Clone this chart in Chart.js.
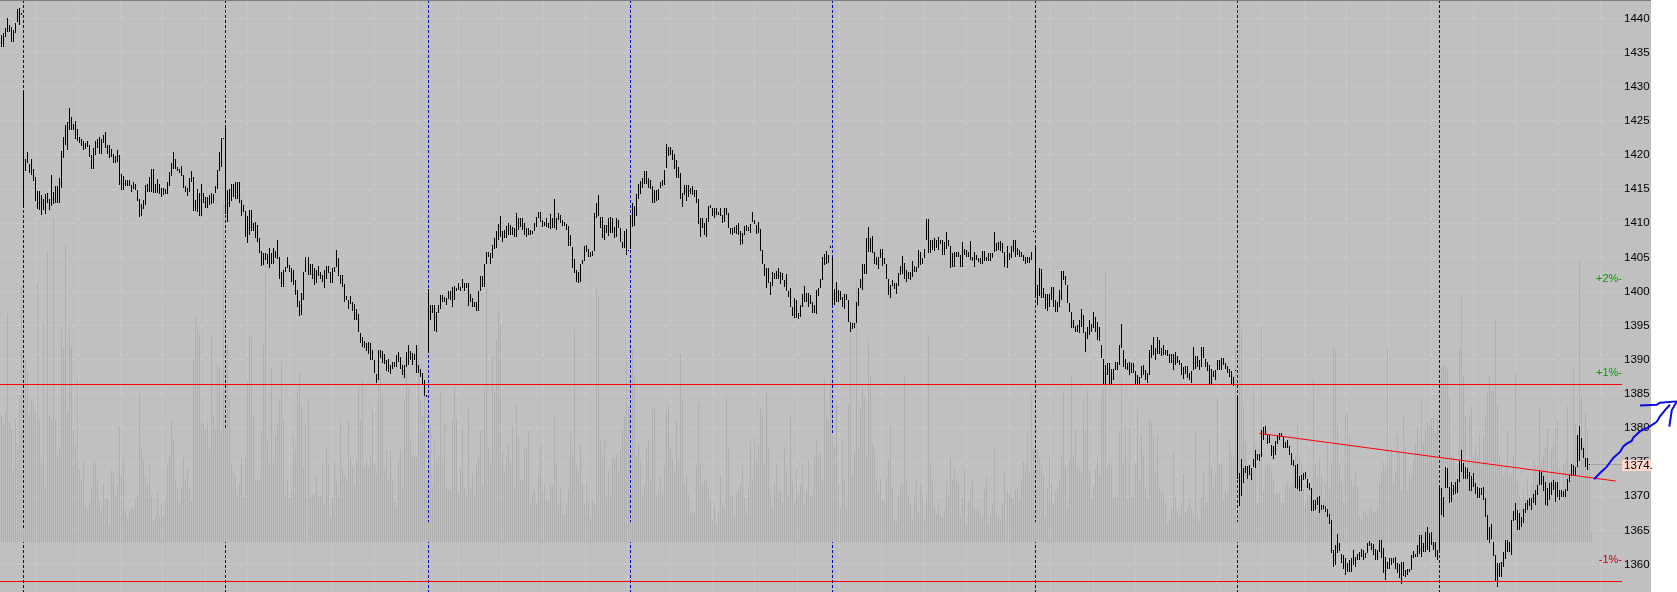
<!DOCTYPE html>
<html>
<head>
<meta charset="utf-8">
<style>
  html, body { margin: 0; background: #fff; overflow: hidden; }
  canvas { display: block; }
</style>
<script src="https://cdn.jsdelivr.net/npm/chart.js@4"></script>
</head>
<body>
<canvas id="chart" width="1677" height="592"></canvas>
<script>
// --- Data: high,low pairs per bar, one array per session ---
const session0 = [1437.6,1435.8,1437.9,1435.8,1438.6,1437.3,1440,1438,1439,1438,1438.75,1436.5,1438.25,1436.5,1439.3,1437.9,1441.4,1439.5,1441.5,1439,1440.75,1440.5];
const session1 = [1429.4,1412.4,
  1419.4,1417.7,1420.4,1418.8,1418.7,1417.3,1419.4,1417.1,1418,1416.2,1416.8,1413.3,1414.7,1412.1,1414.7,1412,1414.1,1411.2,1413.5,1412,
  1414.3,1411.3,1414.5,1413,1413.5,1412,1417.1,1412.5,1414.6,1412.8,1415.4,1412.9,1415.4,1413,1416.7,1413,1420.6,1415.1,1422.7,1419.5,
  1424.4,1421.4,1424.9,1420.7,1426.9,1423.6,1425.5,1423.7,1424.6,1423.6,1425,1422.3,1423.8,1422,1422.6,1421.7,1422.4,1421.3,1422,1420.7,
  1421.8,1420.9,1422,1421.1,1421.5,1419.7,1420,1418,1421,1418,1422.1,1420,1422.3,1421,1422.6,1420.1,1422.3,1420.2,1422.9,1421.7,
  1423.3,1421,1421.5,1420.2,1421.4,1419.5,1420.9,1419.7,1420.1,1418.9,1419.9,1418.8,1420.7,1419,1420,1415.6,1417.2,1414.8,1416.9,1414.9,
  1416.3,1415.4,1416.3,1415.4,1416.3,1415.4,1415.6,1414.6,1416.1,1415,1415.8,1414.8,1414.9,1413.3,1413.6,1410.9,1412.8,1411,1413.4,1412.1,
  1415.6,1412.7,1415.7,1414.6,1416.8,1414.6,1418,1414.6,1418,1414.5,1415.8,1414.5,1416.5,1414.4,1415.7,1414.3,1415.1,1413.9,1415.1,1414.1,
  1415,1414.3,1416.1,1414.3,1417.5,1415.5,1418.9,1416.9,1420.4,1418,1419.4,1417.9,1418.3,1417.6,1418,1417.4,1418.4,1416.9,1417.1,1415.1,
  1415.5,1414.6,1415.2,1414,1416.6,1414.6,1417.6,1416.1,1416.8,1411.8,1413.4,1411.8,1415,1411.7,1414.4,1411,1415.8,1411.1,1414.5,1413,
  1413.9,1412.2,1413.9,1412.2,1414.1,1412.7,1414.5,1412.8,1414.3,1412.9,1415.4,1414.4,1417.8,1415,1420.4,1417.6,1422.5,1418.2,1422.5,1422.3];
const session2 = [1424,1411.4,
  1414.8,1410.2,1415,1412.4,1415.7,1413.2,1415.8,1413.9,1416.1,1413.6,1416.1,1413.6,1416.1,1412.9,1413.4,1411,1412.7,1411.7,1411.8,1408,
  1411,1407.1,1411.9,1408.3,1411.9,1408.9,1410.1,1408.8,1410.2,1407.9,1409.7,1407.3,1407.8,1405.7,1406,1403.8,1405.7,1403.9,1405.6,1404.6,
  1405.5,1404.1,1406.3,1403.4,1405.6,1404.1,1406.3,1404.1,1406,1404.9,1407.6,1404.8,1405.1,1401.8,1402.8,1400.6,1403.2,1400.7,1403.6,1402.9,
  1405.1,1403.5,1403.9,1402.9,1403.4,1401.4,1403.1,1400.9,1401.7,1399.5,1400.2,1397.8,1398.6,1396.4,1399.8,1396.6,1402.9,1398.7,1405,1402.9,
  1405,1402.4,1404,1402.4,1404,1401.9,1403.4,1400.9,1403.1,1401.2,1403.7,1402.2,1402.8,1401.9,1402.4,1401.4,1403.1,1400.5,1403.7,1401.9,
  1403.7,1402.7,1402.9,1401.2,1403.4,1401.2,1403.6,1402.9,1406.1,1403.6,1404.9,1402.2,1402.4,1401.1,1402.4,1400.7,1401.1,1398.5,1399.3,1398.7,
  1398.8,1397.5,1399.4,1398.2,1398.5,1397.2,1398.2,1395.8,1397.4,1395.8,1396.7,1394.1,1393.9,1392.4,1393.4,1391.8,1392.7,1391.7,1392.5,1391.3,
  1392.6,1390.9,1392.4,1390,1391.5,1390,1390,1388,1387.9,1386.6,1391.5,1387,1391.4,1390.2,1391.3,1389.5,1390.9,1389.4,1390,1388.3,
  1390.1,1388.2,1389.2,1387.9,1389.7,1388.6,1389.7,1388.9,1390.7,1389,1391.2,1389.7,1390.4,1388.7,1389.3,1387.8,1389.2,1387.3,1391.2,1389,
  1392.2,1389.2,1391.3,1390,1391,1389.2,1390.9,1389.9,1392.2,1388,1389.2,1388,1388.7,1387.5,1388,1386.5,1387,1384.7,1384.9,1384.6];
const session3 = [1400.3,1391,
  1398,1395.8,1398,1396.9,1398,1394.2,1397,1394.1,1398,1396.8,1399.5,1397.4,1399.5,1398.5,1399.2,1398.5,1399,1398,1400,1398.9,
  1400.1,1398.8,1400.7,1397.8,1400.8,1398.8,1400.5,1400.1,1401.3,1400.2,1400.7,1400,1401.8,1400.5,1401.2,1400,1401.3,1400.5,1401.2,1397.9,
  1399.7,1398.5,1399,1397.8,1398.5,1397.7,1398.5,1397.2,1400,1397.2,1402.2,1400.1,1402.2,1400.7,1404,1400.7,1405.8,1404.1,1405.8,1405,
  1405.6,1404,1406.8,1404.9,1407.8,1406.2,1408.8,1406.3,1409.9,1407.5,1411.1,1408,1408.8,1407.3,1409,1407.8,1409.6,1407.8,1410.1,1408.3,
  1409.7,1408.3,1409.5,1408.3,1409.3,1408,1411.5,1408,1410.7,1409,1410.7,1409.5,1410.7,1409,1410,1408.3,1409.3,1408,1409.3,1408.3,
  1409,1408.3,1408.8,1408.4,1410,1408.8,1410.9,1409.5,1411.7,1410.7,1411.7,1410.2,1410.5,1409.5,1410.2,1409.6,1410.7,1409.5,1410,1409.3,
  1411.3,1409.1,1410.7,1409.3,1413.6,1409.3,1410.7,1409,1411.5,1410.5,1411.2,1410,1410.5,1409.6,1410.2,1409.6,1409.9,1409,1409.6,1406.6,
  1408.3,1406.6,1406.5,1403.4,1404.7,1402.7,1403.2,1401.4,1402.9,1401.2,1404,1401.4,1404.6,1404,1406.6,1404.4,1406.8,1405.8,1406.2,1405,
  1405.8,1405.1,1406,1405.2,1411.5,1406,1413,1410.7,1414.1,1411,1410.9,1409.3,1410.9,1407.8,1409.7,1407.5,1409.7,1408.5,1410.7,1408.1,
  1410.9,1408.5,1410.7,1408.5,1409.5,1407.9,1410.7,1408,1410.5,1409.3,1409.3,1407.2,1407.3,1406.3,1408.8,1406.3,1409.1,1405.3,1406.1,1406];
const session4 = [1411.2,1406.2,
  1412.9,1409.5,1412.5,1409.6,1414.3,1411,1415.8,1413.6,1416.2,1414.3,1416.7,1415.1,1417.6,1415.8,1417.6,1415.8,1416.6,1415.1,1416.4,1415,
  1415.4,1412.9,1414.9,1412.9,1414.9,1413.2,1415,1413.4,1416.1,1415.1,1416.3,1415.4,1417.8,1415.6,1421.6,1418.1,1421.2,1419.8,1421.1,1420,
  1420.8,1419.3,1420.2,1417.9,1419.3,1416.7,1418.3,1416.6,1417.3,1413.6,1414.4,1412.4,1415.6,1414.1,1415.6,1413.2,1415.6,1413.9,1415.1,1414.3,
  1415.5,1414.1,1414.8,1413.9,1414.8,1412.9,1413.5,1409.9,1410.7,1408,1410.7,1409.3,1410.1,1408.3,1410.7,1408,1412.5,1410.2,1412.7,1412.2,
  1412.2,1411,1412.3,1410.8,1412.2,1411.2,1411.7,1411.2,1412.3,1411,1411.2,1410,1412.3,1410.2,1412.3,1411.2,1411.5,1409.3,1409.3,1408.4,
  1409.3,1408.3,1409.4,1408.5,1409.7,1408.4,1410,1408.3,1408.8,1406.8,1408.5,1407,1409.6,1408.3,1409.7,1408.8,1409.5,1408.9,1409.9,1408.5,
  1411.7,1410.2,1410.5,1409.9,1409.7,1408.4,1410.2,1408.5,1409.1,1406,1406.1,1404,1404,1402.2,1403.4,1400.5,1403.5,1401.2,1401.4,1399.5,
  1402.9,1400.8,1402.7,1401.9,1403,1401.9,1403.4,1401.9,1402.8,1401.1,1402.7,1401.7,1401.7,1400.7,1402.6,1400,1400,1399.2,1400.5,1397.7,
  1397.7,1396.4,1399,1396.1,1398.8,1396.1,1396.8,1395.9,1398,1396.3,1399.7,1397.7,1400.8,1398.5,1399.8,1398.5,1399.8,1397.8,1399.5,1398.2,
  1398.5,1396.8,1398,1396.8,1400.2,1396.7,1400.5,1399.3,1401.9,1400.5,1405,1401.7,1405.5,1403.9,1406,1404.1,1405.3,1404.2,1406.6,1406.3];
const session5 = [1405.1,1398,
  1400.3,1398,1401.4,1398.5,1400.2,1398.5,1400,1398.8,1399.2,1397.8,1399.6,1397.5,1399.6,1398.7,1398.8,1395.6,1395.6,1394.1,1395.4,1394.5,
  1395.4,1394.6,1398.5,1395.4,1400.5,1397.9,1401.9,1400.5,1404.1,1400.2,1404.1,1402.6,1407.9,1402.6,1409.4,1405.8,1407.8,1405.8,1408.1,1405.6,
  1405.8,1404.1,1405.1,1403.9,1405.1,1403.3,1406.2,1404.9,1406.2,1403.7,1404.9,1404,1404,1401.9,1401.9,1399.5,1400.9,1399.1,1401.7,1400.8,
  1401.2,1400.3,1401.2,1399.7,1402.7,1400.8,1403.7,1402.4,1405.2,1402.6,1404.2,1401.9,1403.1,1401.4,1402.9,1401.9,1402.8,1401.7,1404.4,1402.1,
  1403.7,1402.9,1403.6,1402.9,1406.1,1403.4,1405.8,1403.9,1404.9,1404.1,1406.2,1404.9,1410.6,1407.6,1410.6,1405.6,1407.5,1405.6,1407.5,1406.1,
  1407.9,1406,1407.5,1406.3,1408,1406.1,1407.6,1407,1407.5,1405.4,1407.3,1405.4,1408.7,1406.2,1407.5,1406.6,1406.6,1403.4,1405.7,1403.6,
  1405.8,1403.6,1405.8,1405,1405.8,1405,1405.3,1403.6,1407.3,1403.6,1406.2,1405.3,1406.1,1405,1405.8,1405.1,1407.4,1404.6,1405.1,1404.4,
  1405.8,1403.6,1405.3,1404.6,1404.9,1404.3,1404.9,1404.1,1406,1404.1,1406,1404.4,1405.1,1404.4,1405.7,1404.4,1405.7,1404.5,1405.7,1404.9,
  1408.7,1405.8,1407.1,1406,1407.2,1406.1,1407.4,1406,1407.1,1405.6,1405.8,1403.6,1406.7,1403.4,1405.6,1404.6,1406.6,1404.9,1407.5,1405.8,
  1407.5,1405,1406.3,1405.3,1406.1,1405.1,1405.8,1405,1405.3,1404.4,1405,1404.1,1405,1404.2,1405.1,1404.2,1405.8,1404.6,1408.9,1408.7];
const session6 = [1406.6,1399,
  1400.9,1398,1403.4,1399.3,1403.3,1399,1400.5,1399,1399.6,1397.5,1399.6,1397.2,1399.6,1397.8,1400.6,1398.8,1400.7,1397.8,1398.8,1397,
  1398.5,1397,1400.2,1397.8,1403,1398.8,1403,1401.7,1402.3,1400.9,1400.9,1398.3,1398.3,1397,1397,1394.6,1395.8,1394.6,1395,1394,
  1395.1,1394.1,1395.8,1393.9,1397.5,1394.8,1396.6,1393.9,1394.1,1391.2,1394.8,1393.1,1395.8,1393.6,1395.3,1394.1,1397,1394.6,1396.3,1394.1,
  1395.6,1392.9,1394.8,1392.7,1392.2,1390.2,1390.1,1386.3,1389.2,1386.3,1389.5,1387.8,1389.5,1386.3,1388.7,1386.3,1388.7,1387,1389.7,1388.5,
  1389.7,1388.5,1392.2,1389.2,1395.2,1391.7,1391.5,1389,1390.1,1388.7,1389.5,1388.5,1389.6,1387.8,1389.5,1388,1389.5,1388,1388.3,1386.4,
  1387.8,1386.4,1387.5,1386.4,1389.1,1387.3,1389.2,1387.8,1388.5,1387.1,1388,1386.6,1391.4,1387.8,1392.2,1390.2,1393.3,1390.7,1391.7,1390,
  1393.4,1390.9,1392.9,1390.8,1391.7,1390.5,1392.2,1390.7,1391.4,1390.7,1391.4,1390.5,1390.8,1389.5,1390.9,1389.5,1390.9,1388.5,1391.2,1389.2,
  1390.5,1389.5,1390,1389.2,1389.5,1387.8,1389,1387.2,1389.1,1387.9,1389.1,1387.3,1388,1387,1388.4,1386.6,1391.9,1388.5,1390.5,1388.7,
  1390.5,1389,1389.9,1388.5,1391.8,1389,1391.9,1390.3,1390.1,1389,1389.7,1388.3,1389.2,1386.5,1388.7,1386.5,1388.3,1387.4,1388.5,1387,
  1389.9,1388.5,1390,1388.5,1390.3,1388.5,1390.3,1389.2,1389.5,1388.7,1389.1,1388,1388.7,1387.5,1388.3,1386.3,1387.5,1386.2,1388.5,1388.4];
const session7 = [1384.5,1372.5,
  1373.4,1368.6,1375.5,1370,1374.1,1371.9,1374.4,1373.4,1374.4,1372.6,1374.6,1373.1,1374.1,1372.4,1375.5,1374.3,1376.8,1374.2,1376.2,1375.3,
  1376.2,1375.1,1379.7,1375.8,1380.1,1378.2,1380.3,1379,1379,1377.7,1379,1377.8,1377.5,1375.9,1377.4,1375.4,1378.1,1376,1379,1377.7,
  1379.3,1378.3,1379.3,1378.7,1378.7,1377,1378,1377,1378.3,1377,1377.3,1376,1376.4,1374.6,1375.3,1374.4,1374.6,1371.2,1374.7,1371,
  1373,1370.7,1373.1,1370.7,1373.4,1372.4,1373.5,1372.5,1372.6,1371.2,1372,1370.9,1371.2,1367.9,1369.5,1367.9,1369.4,1368,1369.9,1368.7,
  1370,1367.6,1368.7,1368,1368.7,1368.2,1368.5,1367.7,1368.2,1367,1367.4,1365.9,1366.5,1361.7,1362.1,1359.7,1362.8,1359.9,1364.4,1361.7,
  1363.2,1362,1361.6,1360.2,1361.4,1359.4,1360.9,1358.5,1360.2,1358.9,1360.6,1358.9,1360.9,1358.9,1362.1,1359.9,1361.1,1359.7,1361.6,1360.6,
  1361.9,1360.6,1362.2,1361.1,1362.1,1360.6,1361.7,1360.9,1363.1,1361.7,1363.4,1362.7,1363.1,1362.1,1363,1361.4,1362.2,1360.6,1362.1,1360.6,
  1363.6,1361.9,1363.6,1360.9,1362.4,1358.7,1361.1,1357.7,1360.4,1359.4,1360.9,1359.3,1360.9,1359.9,1361,1360.2,1361.1,1359.4,1360.2,1358.8,
  1360.1,1358,1360.3,1357.2,1360.3,1358.3,1359.2,1358.2,1359.4,1358.5,1359.3,1358.9,1361.4,1359.2,1362,1360.9,1361.5,1361.1,1362.9,1361.1,
  1364.3,1361.6,1364.3,1361.1,1363.1,1361.9,1364.8,1361.9,1365.5,1362.1,1364.6,1361.9,1364.8,1362.9,1363.3,1362.1,1363.3,1361.1,1362.1,1360.6];
const session8 = [1371.6,1362.1,
  1371.2,1367.3,1369.9,1367,1374.3,1371.2,1374.2,1371.2,1371.4,1369,1372.1,1369.2,1371.7,1370.2,1372.1,1370.3,1372.5,1370.5,1375.1,1372.1,
  1376.8,1373.6,1374.8,1372.6,1374.3,1372.6,1374.1,1372.6,1373.6,1370.7,1372.9,1370.7,1373.4,1371.4,1371.9,1370.4,1371.4,1369.7,1371.2,1369.7,
  1371.2,1370.2,1371.4,1369.5,1369.7,1367,1367.3,1363.6,1365.5,1363.1,1366,1363.8,1363.3,1361.3,1361.4,1357.5,1360.2,1356.7,1360.2,1358.2,
  1360.4,1358.2,1361.9,1359.7,1363.6,1360.8,1363.6,1361.9,1363.3,1361.9,1366.5,1361.4,1367.8,1366.3,1369,1366.5,1368,1365,1367.5,1365,
  1367,1365.5,1368.2,1366.1,1369,1367.5,1369.5,1368,1369.7,1368.5,1369.7,1368,1370.4,1369,1370.9,1368.7,1371.7,1370.2,1373.8,1371.7,
  1373.6,1371.7,1372.9,1370.7,1372.1,1368.7,1371.2,1368.5,1371.9,1369.5,1372.1,1370.2,1372.4,1370.9,1372.1,1369.2,1372.1,1369.9,1370.9,1369.5,
  1370.9,1369.9,1370.7,1369.9,1371,1369.9,1372.6,1370.7,1373.1,1372.1,1374.7,1373,1374.6,1373,1374.3,1373,1379,1374.3,1380.3,1375.1,
  1378.5,1376.8,1377,1375.6,1375.6,1374.3,1375.6,1373.8,1374.7,1374.6];

const priceBars = [...session0, ...session1, ...session2, ...session3, ...session4, ...session5, ...session6, ...session7, ...session8];
const highs = priceBars.filter((_, i) => i % 2 === 0);
const lows = priceBars.filter((_, i) => i % 2 === 1);

const volume = [
  126,119,130,228,120,113,73,123,98,143,257,12,183,171,129,143,140,130,260,122,84,218,56,290,126,123,325,122,88,96,
  215,195,297,130,213,195,112,95,165,72,62,82,35,31,38,55,78,79,62,41,33,58,43,43,18,72,68,48,57,115,
  67,82,31,23,33,34,33,42,46,149,93,83,66,58,76,45,20,25,50,26,38,27,42,77,85,121,102,63,52,37,
  56,85,63,73,53,41,182,226,216,208,119,118,112,119,93,204,127,112,177,175,112,340,113,
  198,143,78,69,65,48,58,85,45,85,162,208,204,126,62,64,62,109,197,270,100,77,173,80,107,120,142,180,
  121,47,62,45,53,107,93,151,169,137,75,118,141,45,47,48,67,45,46,80,38,94,79,26,45,80,60,45,120,75,
  65,62,122,85,75,58,83,155,122,162,75,82,75,85,132,78,68,158,168,147,72,92,62,92,62,40,35,82,92,55,
  143,168,153,102,87,87,85,197,143,126,155,60,20,
  118,56,104,83,86,151,82,118,56,52,53,122,155,123,48,73,113,54,48,132,56,68,48,79,85,112,58,152,258,93,
  79,186,150,202,230,217,90,71,87,99,82,116,55,138,106,62,62,92,96,111,38,48,52,38,69,96,53,57,43,40,
  58,57,124,78,37,54,28,28,36,52,109,88,212,76,70,97,57,38,61,40,24,42,36,253,246,101,85,102,45,72,
  48,84,83,88,72,93,112,126,187,135,20,
  193,168,85,97,80,48,58,94,103,62,132,136,47,52,65,49,76,132,136,93,82,70,122,82,188,142,58,65,48,30,
  28,29,76,139,78,58,62,61,52,42,22,37,17,30,66,38,34,145,93,46,48,26,48,52,58,77,44,27,56,101,
  62,103,82,97,133,126,78,150,93,48,34,57,77,50,52,40,95,68,48,128,61,40,72,48,58,77,38,51,82,46,
  48,86,103,86,89,60,164,127,122,162,107,
  95,138,57,33,100,61,33,138,210,67,90,260,95,132,154,145,88,200,166,98,92,62,50,63,42,40,63,83,116,53,
  22,20,48,58,60,166,61,47,38,22,48,62,28,60,47,22,43,206,79,60,35,28,38,27,25,32,61,47,85,62,
  74,62,59,25,44,72,18,40,52,60,33,33,33,28,25,52,65,18,27,38,92,28,25,22,38,68,51,47,45,43,
  53,53,42,62,80,72,110,70,147,95,20,
  93,85,77,67,26,53,85,60,38,51,52,62,88,151,75,33,83,166,88,112,75,73,68,143,112,152,72,43,56,73,
  85,67,147,153,271,75,78,76,45,47,45,110,165,80,116,43,114,45,46,78,132,62,107,87,52,43,122,119,105,68,
  108,55,52,50,40,18,22,33,90,45,32,25,40,68,30,33,42,33,28,108,27,20,45,70,35,40,102,75,55,68,
  143,78,78,42,51,50,102,88,88,194,20,
  272,212,136,99,74,76,66,153,96,39,92,215,52,76,79,76,72,62,49,49,49,37,39,57,61,54,59,79,86,119,
  84,79,52,39,47,47,39,163,79,66,84,66,42,59,99,52,79,196,191,117,76,59,39,129,129,107,62,56,69,56,
  26,22,31,32,26,32,36,29,29,34,59,69,79,72,193,86,91,59,69,107,91,52,124,96,52,69,64,82,99,116,
  92,141,99,114,119,116,124,124,109,124,20,
  176,176,177,172,146,86,86,72,76,194,246,167,127,81,126,136,86,96,87,107,76,106,126,151,167,151,152,222,137,86,
  76,66,76,111,66,69,86,169,59,47,42,52,44,64,44,57,82,76,77,134,79,86,96,114,62,92,101,114,121,74,
  42,79,82,136,72,79,174,119,76,281,146,99,129,112,76,9
];

const sessionStarts = [11, 112, 213, 314, 415, 516, 617, 718];
const yTicks = [1360, 1365, 1370, 1375, 1380, 1385, 1390, 1395, 1400, 1405, 1410, 1415, 1420, 1425, 1430, 1435, 1440];
const supportLevels = [1386.37, 1357.51];
const trendLine = [[628, 1379.22], [805.9, 1372.23]];
const lastPrice = 1374.58;
const lastPriceText = '1374.';
const pctLabels = ['+2%-', '+1%-', '-1%-'];
const pctPrices = [1401.83, 1388.1, 1360.6];
const pctColors = ['#00a000', '#00a000', '#c80000'];

// hand drawn arrow (last point first)
const arrowStem = [[833,1383.4],[831.4,1382.9],[828,1381.7],[826.4,1380.9],[822.2,1380.1],[818,1379.5],[814.7,1378.6],[813.9,1378.1],[811.4,1377.7],[809.7,1377.3],[808.1,1376.5],[804.7,1375.6],[801.4,1374.3],[798.1,1373.4],[795.1,1372.5]];
const arrowTop = [[836.4,1383.9],[828,1383.7],[826.4,1383.4],[818,1383.3]];
const arrowSide = [[836.4,1383.9],[833.9,1382.6],[832.7,1380.2]];

// --- Scale ranges ---
const xMin = -0.78, xMax = 809.06;
const yMin = 1355.97, yMax = 1442.71;
const gridFirst = 6.7, gridStep = 21.108, gridCount = 39;
const plotRight = 1651;

// --- Plugins ---
function onPixelColumn(v) { return Math.floor(v) + 0.5; }

const snapPlugin = {
    id: 'snap',
    afterDatasetsUpdate(chart) {
        chart.data.datasets.forEach((ds, i) => {
            const meta = chart.getDatasetMeta(i);
            if (ds.type !== 'line') {
                meta.data.forEach(el => {
                    el.x = onPixelColumn(el.x);
                    el.y = Math.round(el.y);
                    el.base = Math.round(el.base);
                    if (Math.abs(el.base - el.y) < 1) el.base = el.y + 1;
                });
            } else if (ds.snapX || ds.snapY) {
                meta.data.forEach(el => {
                    if (ds.snapX) el.x = onPixelColumn(el.x);
                    if (ds.snapY) el.y = onPixelColumn(el.y);
                });
            }
        });
    }
};

const framePlugin = {
    id: 'frame',
    beforeDraw(chart) {
        const { ctx, height } = chart;
        ctx.save();
        ctx.fillStyle = '#c0c0c0';
        ctx.fillRect(0, 0, plotRight, height);
        ctx.restore();
    },
    afterDraw(chart) {
        const { ctx } = chart;
        const y = chart.scales.y;
        ctx.save();
        ctx.fillStyle = '#7f7f7f';
        ctx.fillRect(0, 0, plotRight, 1);
        ctx.font = "11px 'Liberation Sans', Arial, sans-serif";
        ctx.textBaseline = 'middle';
        ctx.textAlign = 'right';
        pctLabels.forEach((label, i) => {
            ctx.fillStyle = pctColors[i];
            ctx.fillText(label, 1622, y.getPixelForValue(pctPrices[i]));
        });
        const tagY = y.getPixelForValue(lastPrice);
        ctx.fillStyle = '#ffd9cf';
        ctx.fillRect(1622, Math.round(tagY) - 5, plotRight - 1622, 11);
        ctx.fillStyle = '#000';
        ctx.textAlign = 'left';
        ctx.font = "11.5px 'Liberation Sans', Arial, sans-serif";
        ctx.fillText(lastPriceText, 1624, tagY + 0.5);
        ctx.restore();
    }
};

function lineSet(points, color, width, extra) {
    return Object.assign({
        type: 'line',
        data: points.map(p => ({ x: p[0], y: p[1] })),
        borderColor: color,
        borderWidth: width,
        pointRadius: 0,
        tension: 0,
        fill: false,
        yAxisID: 'y'
    }, extra);
}

// --- Chart ---
const datasets = [
    ...sessionStarts.map(i => lineSet([[i, yMax], [i, yMin]], '#0000b4', 1, { borderDash: [3, 2], order: 6, snapX: true })),
    {
        type: 'bar',
        data: volume.map((v, i) => ({ x: i, y: v })),
        backgroundColor: '#afafaf',
        barThickness: 1,
        grouped: false,
        inflateAmount: 0,
        yAxisID: 'yVol',
        order: 5
    },
    lineSet([[793.6, lastPrice], [809, lastPrice]], '#a0a0a0', 1, { order: 5, snapY: true }),
    {
        type: 'bar',
        data: highs.map((h, i) => ({ x: i, y: [lows[i], h] })),
        backgroundColor: '#000',
        barThickness: 1,
        grouped: false,
        inflateAmount: 0,
        yAxisID: 'y',
        order: 4
    },
    ...supportLevels.map(v => lineSet([[xMin, v], [xMax, v]], '#ff0000', 1, { order: 3, snapY: true })),
    lineSet(trendLine, '#ff0000', 1, { order: 2 }),
    lineSet(arrowStem, '#0a0ae6', 2, { order: 1, clip: false }),
    lineSet(arrowTop, '#0a0ae6', 2, { order: 1, clip: false }),
    lineSet(arrowSide, '#0a0ae6', 2, { order: 1, clip: false })
];

new Chart(document.getElementById('chart').getContext('2d'), {
    type: 'bar',
    data: { datasets },
    plugins: [snapPlugin, framePlugin],
    options: {
        responsive: false,
        animation: false,
        events: [],
        layout: { padding: { right: 26 } },
        plugins: { legend: { display: false }, tooltip: { enabled: false } },
        scales: {
            x: {
                type: 'linear',
                min: xMin,
                max: xMax,
                offset: false,
                afterBuildTicks(scale) {
                    scale.ticks = Array.from({ length: gridCount }, (_, k) => ({ value: gridFirst + k * gridStep }));
                },
                afterFit(scale) {
                    scale.height = 0;
                    scale.paddingLeft = 0;
                    scale.paddingRight = 0;
                },
                ticks: { display: false },
                border: { display: false, dash: [5, 3] },
                grid: { color: '#cacaca', drawTicks: false }
            },
            y: {
                type: 'linear',
                position: 'right',
                min: yMin,
                max: yMax,
                afterBuildTicks(scale) {
                    scale.ticks = yTicks.map(v => ({ value: v }));
                },
                afterFit(scale) {
                    scale.width = 29;
                    scale.paddingTop = 0;
                    scale.paddingBottom = 0;
                },
                ticks: {
                    color: '#000',
                    padding: 2,
                    font: { family: "'Liberation Sans', Arial, sans-serif", size: 11.5 },
                    callback: v => String(v)
                },
                border: { display: false, dash: [5, 3] },
                grid: { color: '#cacaca', drawTicks: false }
            },
            yVol: {
                type: 'linear',
                display: false,
                min: -50.3,
                max: 541.7
            }
        }
    }
});
</script>
</body>
</html>
